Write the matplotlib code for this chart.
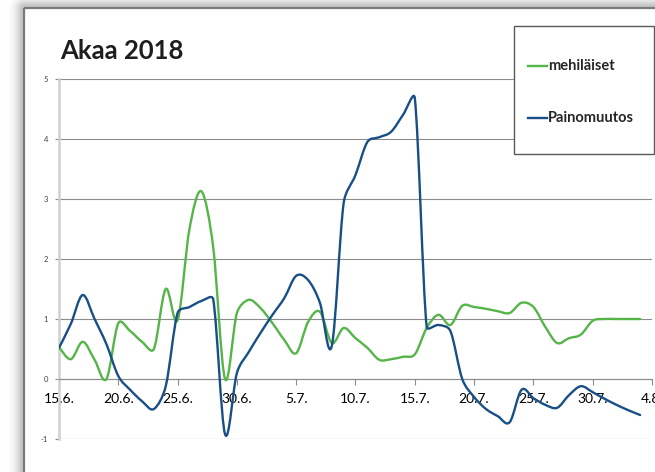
import numpy as np
import pandas as pd
import matplotlib
matplotlib.use("Agg")
import matplotlib.pyplot as plt
import matplotlib.dates as mdates
from matplotlib.path import Path
from matplotlib.patches import PathPatch, Rectangle
from matplotlib.lines import Line2D

# data, one value per day 15.6. - 3.8.2018
dates = pd.date_range("2018-06-15", "2018-08-03", freq="D")

mehilaiset = [0.53, 0.33, 0.62, 0.32, 0.0, 0.93, 0.8, 0.62, 0.5, 1.5,
              0.98, 2.5, 3.13, 2.2, 0.0, 1.1, 1.32, 1.18, 0.93, 0.65,
              0.43, 0.95, 1.12, 0.6, 0.85, 0.68, 0.52, 0.32, 0.33, 0.37,
              0.41, 0.85, 1.07, 0.9, 1.22, 1.2, 1.17, 1.13, 1.1, 1.27,
              1.2, 0.87, 0.6, 0.68, 0.74, 0.97, 1.0, 1.0, 1.0, 1.0]

painomuutos = [0.52, 0.92, 1.4, 1.0, 0.58, 0.05, -0.18, -0.37, -0.5, -0.12,
               1.1, 1.2, 1.3, 1.33, -0.92, 0.1, 0.45, 0.77, 1.07, 1.35,
               1.72, 1.65, 1.27, 0.55, 2.93, 3.4, 3.95, 4.03, 4.12, 4.4,
               4.68, 0.87, 0.9, 0.8, 0.0, -0.3, -0.5, -0.62, -0.72, -0.18,
               -0.32, -0.43, -0.48, -0.27, -0.12, -0.22, -0.33, -0.43, -0.52, -0.6]

series_names = ["mehiläiset", "Painomuutos"]
series_colors = ["#55b548", "#174f86"]

tick_dates = pd.date_range("2018-06-15", "2018-08-04", freq="5D")
y_ticks = [-1, 0, 1, 2, 3, 4, 5]

W, H = 655, 472
# pixels per day and per unit on the plot, used for the smoothing
SCALE = np.array([593 / 50, 60.0])


def fx(px):
    return px / W


def fy(py):
    return 1 - py / H


def smooth_path(x, y, max_arm=0.45):
    # excel style smoothed line, bezier arms clamped so steep jumps don't overshoot
    pts = np.column_stack([x, y]) * SCALE
    n = len(pts)
    verts = [pts[0]]
    codes = [Path.MOVETO]
    for i in range(n - 1):
        p0 = pts[i - 1] if i > 0 else pts[i]
        p1 = pts[i]
        p2 = pts[i + 1]
        p3 = pts[i + 2] if i + 2 < n else pts[i + 1]
        seg = np.hypot(*(p2 - p1))
        a1 = (p2 - p0) / 6
        a2 = (p3 - p1) / 6
        for a in (a1, a2):
            ln = np.hypot(*a)
            if ln > max_arm * seg:
                a *= max_arm * seg / ln
        verts += [p1 + a1, p2 - a2, p2]
        codes += [Path.CURVE4] * 3
    return Path(np.array(verts) / SCALE, codes)


plt.rcParams['font.family'] = ['Lato', 'DejaVu Sans']

fig = plt.figure(figsize=(W / 100, H / 100), dpi=100)

# background with the frame shadow
bg = fig.add_axes([0, 0, 1, 1], zorder=-10)
yy, xx = np.mgrid[0:H, 0:W]
dx = np.clip(24 - xx, 0, None)
dy = np.clip(8 - yy, 0, None)
d = np.sqrt(dx ** 2 + dy ** 2)
shade = 1 - 0.25 * np.exp(-d ** 2 / (2 * 6.0 ** 2))
shade[(xx >= 24) & (yy >= 8)] = 1.0
bg.imshow(np.dstack([shade] * 3), extent=(0, W, H, 0), aspect='auto')
bg.set_xlim(0, W)
bg.set_ylim(H, 0)
bg.axis('off')
bg.add_patch(Rectangle((24, 8), W + 50, H + 50, fill=False,
                       edgecolor="#7a7a7a", linewidth=1.6))

ax = fig.add_axes([fx(59), fy(439), fx(652) - fx(59), fy(79) - fy(439)])
ax.set_facecolor('none')

x = mdates.date2num(dates)
for vals, color in zip([mehilaiset, painomuutos], series_colors):
    ax.add_patch(PathPatch(smooth_path(x, np.array(vals)), fill=False,
                           edgecolor=color, linewidth=1.7,
                           capstyle='round', joinstyle='round', zorder=3))

ax.set_xlim(mdates.date2num(tick_dates[0]), mdates.date2num(tick_dates[-1]))
ax.set_ylim(-1, 5)

ax.set_yticks(y_ticks)
ax.set_yticklabels([str(v) for v in y_ticks], fontsize=5.5, color="#404040")
ax.yaxis.grid(True, color="#8c8c8c", linewidth=0.8)
ax.tick_params(axis='y', length=3, width=0.8, color="#8c8c8c", pad=5)

ax.set_xticks(mdates.date2num(tick_dates))
ax.set_xticklabels([f"{d.day}.{d.month}." for d in tick_dates],
                   fontsize=9.5, color="#404040")
ax.tick_params(axis='x', length=4, width=0.8, color="#8c8c8c", pad=6)

ax.spines['bottom'].set_position(('data', 0))
ax.spines['bottom'].set_color("#8c8c8c")
ax.spines['bottom'].set_linewidth(0.8)
ax.spines['left'].set_color("#d0d0d0")
ax.spines['left'].set_linewidth(1.8)
ax.spines['top'].set_visible(False)
ax.spines['right'].set_visible(False)

fig.text(fx(60), fy(59), "Akaa 2018", fontsize=18.5, fontweight='bold',
         color="#1e1e1e", va='baseline')

# legend box drawn by hand
fig.patches.append(Rectangle((fx(514), fy(154)), fx(654) - fx(514), fy(26) - fy(154),
                             transform=fig.transFigure, facecolor='white',
                             edgecolor="#595959", linewidth=1.0, zorder=5))
for name, color, py in zip(series_names, series_colors, [66, 118]):
    fig.lines.append(Line2D([fx(528), fx(547)], [fy(py), fy(py)], color=color,
                            linewidth=1.7, transform=fig.transFigure, zorder=6))
    fig.text(fx(548), fy(py), name, fontsize=10.5, fontweight='bold',
             color="#262626", va='center', zorder=6)

fig.savefig("out.png", dpi=100)
